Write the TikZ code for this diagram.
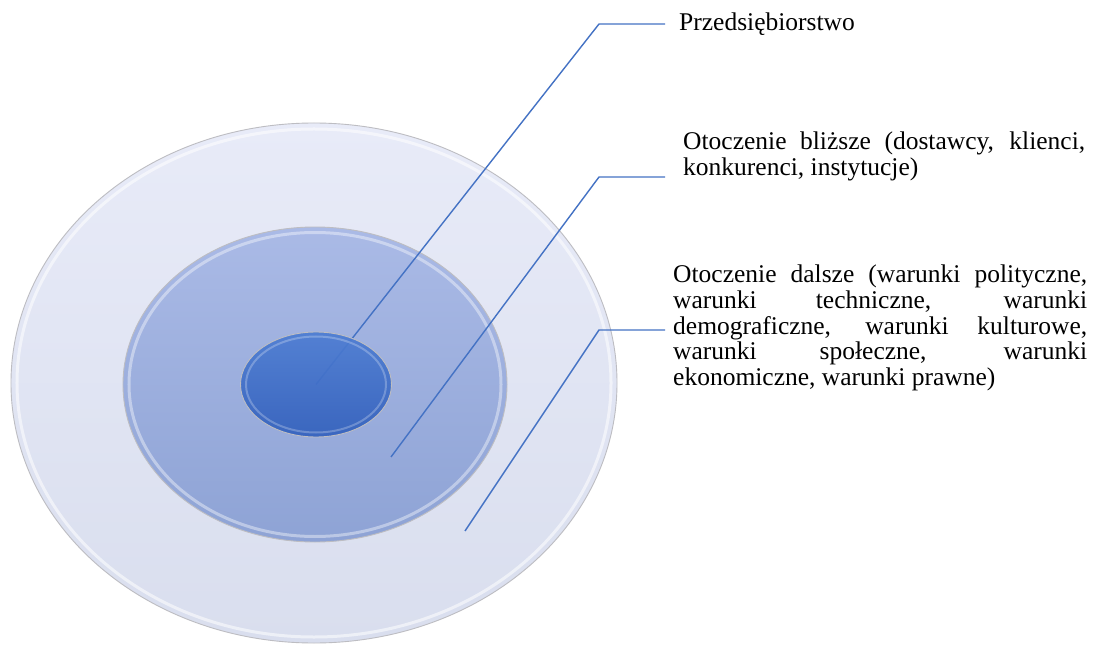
\documentclass[tikz,border=0pt]{standalone}
\usepackage{fontspec}
\setmainfont{Liberation Serif}
\usetikzlibrary{shapes.geometric}

\definecolor{ringouttop}{HTML}{E8EBF8}
\definecolor{ringoutbot}{HTML}{D9DEEE}
\definecolor{ringmidtop}{HTML}{AABAE6}
\definecolor{ringmidbot}{HTML}{8EA3D5}
\definecolor{coretop}{HTML}{4D7DD2}
\definecolor{corebot}{HTML}{3461BD}
\definecolor{rim}{HTML}{BDBDC2}
\definecolor{leadblue}{HTML}{4472C4}

\pgfdeclarelayer{disc}
\pgfdeclarelayer{lead}
\pgfsetlayers{disc,lead,main}

\tikzset{
  disk/.style={ellipse, inner sep=0pt, draw=rim, line width=0.9bp},
  shine/.style={draw=white, line width=3bp, opacity=0.55},
  leader/.style={draw=leadblue, line width=1.4bp},
  caption/.style={inner sep=0pt, anchor=base west, font=\fontsize{25.5bp}{25.5bp}\selectfont}
}

\begin{document}
\begin{tikzpicture}[x=1bp, y=-1bp]
% the three nested discs
\begin{pgfonlayer}{disc}
  \fill[white] (0,0) rectangle (1093,646);
  \node[disk, minimum width=606bp, minimum height=520bp,
        top color=ringouttop, bottom color=ringoutbot] (outer) at (314,383) {};
  \draw[shine] (outer.center) ellipse [x radius=297bp, y radius=254bp];
  \node[disk, minimum width=384bp, minimum height=315bp,
        top color=ringmidtop, bottom color=ringmidbot] (middle) at (315,384.5) {};
  \draw[shine, opacity=0.4] (middle.center) ellipse [x radius=186bp, y radius=152bp];
\end{pgfonlayer}
\useasboundingbox (0,0) rectangle (1093,646);

\node[disk, minimum width=151bp, minimum height=105bp, fill opacity=0.93,
      top color=coretop, bottom color=corebot] (inner) at (316,384.5) {};
\draw[draw=white, line width=2bp, opacity=0.25] (inner.center) ellipse [x radius=70bp, y radius=48bp];

% labels
\node[caption] (t1) at (679,31) {Przedsiębiorstwo};
\node[caption, font=\fontsize{25.5bp}{26bp}\selectfont] (t2) at (683,150) {\vtop{%
  \hbox to 402bp{Otoczenie bliższe (dostawcy, klienci,}
  \hbox{konkurenci, instytucje)}}};
\node[caption] (t3) at (673,283) {\vtop{%
  \hbox to 414bp{Otoczenie dalsze (warunki polityczne,}
  \hbox to 414bp{warunki techniczne, warunki}
  \hbox to 414bp{demograficzne, warunki kulturowe,}
  \hbox to 414bp{warunki społeczne, warunki}
  \hbox{ekonomiczne, warunki prawne)}}};

% leader lines
\coordinate (b1) at (599,24);   \coordinate (e1) at (665,24);
\coordinate (s2) at (391,457);  \coordinate (b2) at (599,177); \coordinate (e2) at (665,177);
\coordinate (s3) at (465,531);  \coordinate (b3) at (599,330); \coordinate (e3) at (665,330);
\begin{pgfonlayer}{lead}
  \draw[leader] (inner.center) -- (b1) -- (e1);
  \draw[leader] (s2) -- (b2) -- (e2);
  \draw[leader] (s3) -- (b3) -- (e3);
\end{pgfonlayer}
\end{tikzpicture}
\end{document}
